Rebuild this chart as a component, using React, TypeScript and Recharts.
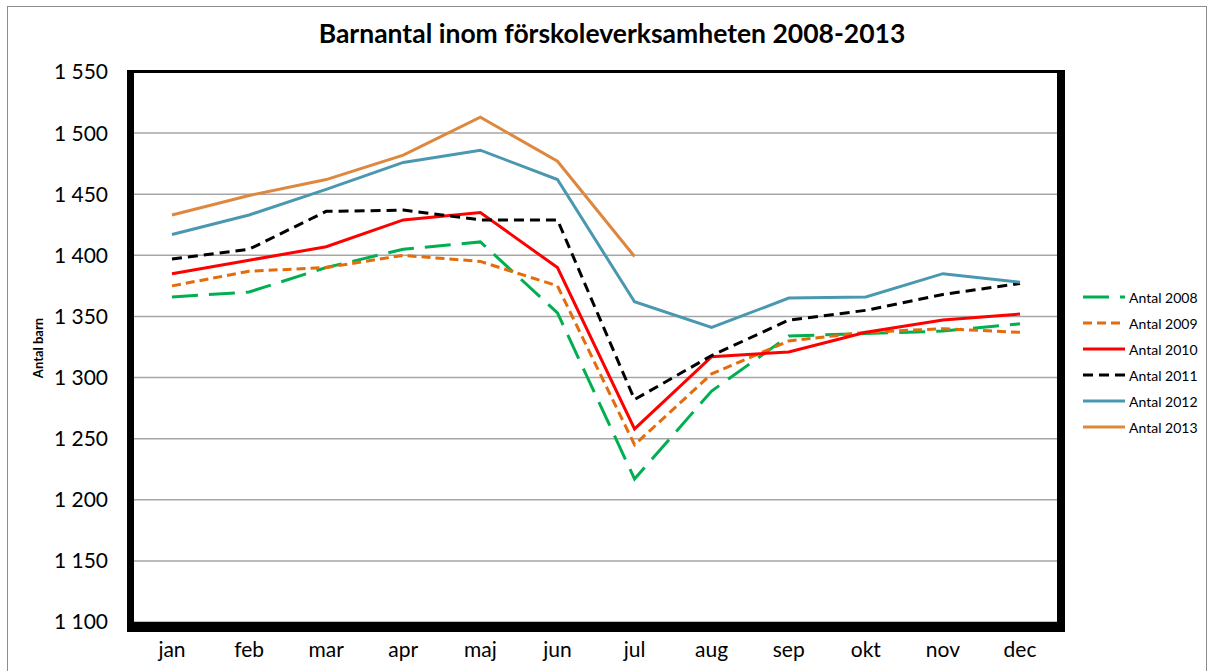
import React from 'react';
import { LineChart, Line, XAxis, YAxis, CartesianGrid } from 'recharts';

const months = ['jan', 'feb', 'mar', 'apr', 'maj', 'jun', 'jul', 'aug', 'sep', 'okt', 'nov', 'dec'];

const antal2008 = [1366, 1370, 1390, 1405, 1411, 1353, 1217, 1289, 1334, 1336, 1338, 1344];
const antal2009 = [1375, 1387, 1390, 1400, 1395, 1375, 1245, 1303, 1330, 1337, 1340, 1337];
const antal2010 = [1385, 1396, 1407, 1429, 1435, 1390, 1258, 1317, 1321, 1337, 1347, 1352];
const antal2011 = [1397, 1405, 1436, 1437, 1429, 1429, 1282, 1318, 1347, 1355, 1368, 1377];
const antal2012 = [1417, 1433, 1454, 1476, 1486, 1462, 1362, 1341, 1365, 1366, 1385, 1378];
const antal2013 = [1433, 1449, 1462, 1482, 1513, 1477, 1399];

const yTicks = [1100, 1150, 1200, 1250, 1300, 1350, 1400, 1450, 1500, 1550];

const series = [
  { key: 'a2008', name: 'Antal 2008', color: '#00B050', dash: '26 11' },
  { key: 'a2009', name: 'Antal 2009', color: '#E46C0A', dash: '9 5' },
  { key: 'a2010', name: 'Antal 2010', color: '#FF0000', dash: undefined },
  { key: 'a2011', name: 'Antal 2011', color: '#000000', dash: '10 6' },
  { key: 'a2012', name: 'Antal 2012', color: '#4A98B0', dash: undefined },
  { key: 'a2013', name: 'Antal 2013', color: '#DE873E', dash: undefined },
];

const data = months.map((month, i) => ({
  month,
  a2008: antal2008[i],
  a2009: antal2009[i],
  a2010: antal2010[i],
  a2011: antal2011[i],
  a2012: antal2012[i],
  a2013: antal2013[i],
}));

const font = 'Lato, "Open Sans", sans-serif';

const formatTick = (v: number) => {
  const thousands = Math.floor(v / 1000);
  const rest = String(v % 1000).padStart(3, '0');
  return `${thousands} ${rest}`;
};

const LegendBox = () => (
  <div style={{ position: 'absolute', left: 1083, top: 284, fontFamily: font, fontSize: 14, color: '#000' }}>
    {series.map((s) => (
      <div key={s.key} style={{ display: 'flex', alignItems: 'center', height: 26 }}>
        <svg width={46} height={10}>
          <line x1={0} y1={5} x2={42} y2={5} stroke={s.color} strokeWidth={3} strokeDasharray={s.dash} />
        </svg>
        <span>{s.name}</span>
      </div>
    ))}
  </div>
);

const App = () => {
  return (
    <div style={{ position: 'absolute', left: 0, top: 0, width: 1212, height: 671, overflow: 'hidden', background: '#fff' }}>
      <div style={{ position: 'absolute', left: 7, top: 6, width: 1198, height: 700, border: '1px solid #8c8c8c' }} />
      <div
        style={{
          position: 'absolute',
          left: 0,
          width: 1224,
          top: 17,
          textAlign: 'center',
          fontFamily: font,
          fontWeight: 'bold',
          fontSize: 26.5,
          color: '#000',
        }}
      >
        Barnantal inom förskoleverksamheten 2008-2013
      </div>
      <div
        style={{
          position: 'absolute',
          left: 38,
          top: 348,
          transform: 'translate(-50%, -50%) rotate(-90deg)',
          fontFamily: font,
          fontWeight: 'bold',
          fontSize: 13,
          whiteSpace: 'nowrap',
        }}
      >
        Antal barn
      </div>
      <LineChart
        width={1212}
        height={671}
        data={data}
        margin={{ top: 72, right: 154, bottom: 0, left: 0 }}
        style={{ position: 'absolute', left: 0, top: 0 }}
      >
        <CartesianGrid vertical={false} stroke="#a6a6a6" strokeWidth={1.5} />
        <XAxis
          dataKey="month"
          height={49}
          padding={{ left: 38, right: 38 }}
          tickLine={false}
          axisLine={false}
          tickSize={0}
          tickMargin={20}
          tick={{ fill: '#000', fontSize: 21, fontFamily: font }}
          interval={0}
        />
        <YAxis
          width={134}
          domain={[1100, 1550]}
          ticks={yTicks}
          interval={0}
          tickLine={false}
          axisLine={false}
          tickSize={0}
          tickMargin={26}
          tickFormatter={formatTick}
          tick={{ fill: '#000', fontSize: 21, fontFamily: font }}
        />
        {series.map((s) => (
          <Line
            key={s.key}
            type="linear"
            dataKey={s.key}
            name={s.name}
            stroke={s.color}
            strokeWidth={3}
            strokeDasharray={s.dash}
            dot={false}
            activeDot={false}
            isAnimationActive={false}
          />
        ))}
      </LineChart>
      <LegendBox />
      <div
        style={{
          position: 'absolute',
          left: 127,
          top: 70,
          width: 1065 - 127 - 7 - 8,
          height: 632 - 70 - 3 - 10,
          borderStyle: 'solid',
          borderColor: '#000',
          borderWidth: '3px 8px 10px 7px',
          pointerEvents: 'none',
        }}
      />
    </div>
  );
};

export default App;
